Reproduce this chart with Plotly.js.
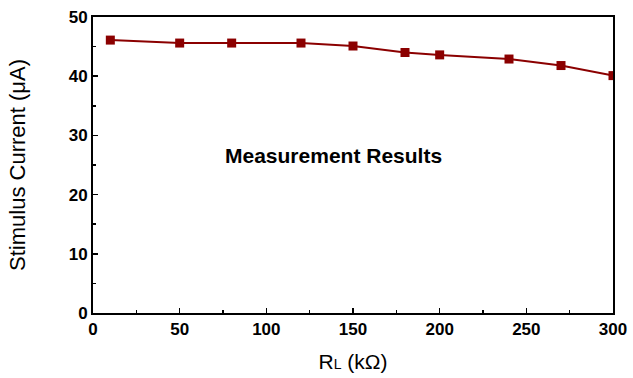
<!DOCTYPE html>
<html><head><meta charset="utf-8">
<script src="https://cdn.plot.ly/plotly-3.0.1.min.js"></script>
<style>body{margin:0}#c{width:633px;height:378px}</style>
</head><body><div id="c"></div>
<script>
const loadR = [10, 50, 80, 120, 150, 180, 200, 240, 270, 300];
const current = [46.1, 45.6, 45.6, 45.6, 45.1, 44.0, 43.6, 42.9, 41.8, 40.1];
const xTicks = [0, 50, 100, 150, 200, 250, 300];
const yTicks = [0, 10, 20, 30, 40, 50];

const trace = {
  x: loadR, y: current, type: 'scatter', mode: 'lines+markers',
  line: {color: '#8b0000', width: 2},
  marker: {symbol: 'square', size: 9, color: '#8b0000'},
  showlegend: false, hoverinfo: 'skip'
};
const font = 'Liberation Sans, Arial, sans-serif';
const layout = {
  width: 633, height: 378,
  margin: {l: 93, r: 20, t: 17, b: 65},
  paper_bgcolor: '#fff', plot_bgcolor: '#fff',
  font: {family: font, color: '#000'},
  xaxis: {
    range: [0, 300], tickvals: xTicks, ticks: 'inside', ticklen: 5, tickwidth: 1.5,
    tickcolor: '#000', showgrid: false, zeroline: false,
    showline: true, linecolor: '#000', linewidth: 2, mirror: true,
    tickfont: {family: font, size: 17, color: '#000', weight: 'bold'},
    minor: {dtick: 25, ticks: 'inside', ticklen: 3, tickcolor: '#000', showgrid: false},
    title: {text: "R<span style='font-size:14px'>L</span> (kΩ)", font: {family: font, size: 21, color: '#000'}, standoff: 16}
  },
  yaxis: {
    range: [0, 50], tickvals: yTicks, ticks: 'inside', ticklen: 5, tickwidth: 1.5,
    tickcolor: '#000', showgrid: false, zeroline: false,
    showline: true, linecolor: '#000', linewidth: 2, mirror: true,
    tickfont: {family: font, size: 17, color: '#000', weight: 'bold'},
    minor: {dtick: 5, ticks: 'inside', ticklen: 3, tickcolor: '#000', showgrid: false},
    title: {text: 'Stimulus Current (μA)', font: {family: font, size: 22, color: '#000'}, standoff: 37}
  },
  annotations: [{
    text: '<b>Measurement Results</b>', xref: 'x', yref: 'y', x: 139, y: 26.6,
    xanchor: 'center', yanchor: 'middle', showarrow: false,
    font: {family: font, size: 21, color: '#000'}
  }]
};
Plotly.newPlot('c', [trace], layout, {staticPlot: true});
</script></body></html>
